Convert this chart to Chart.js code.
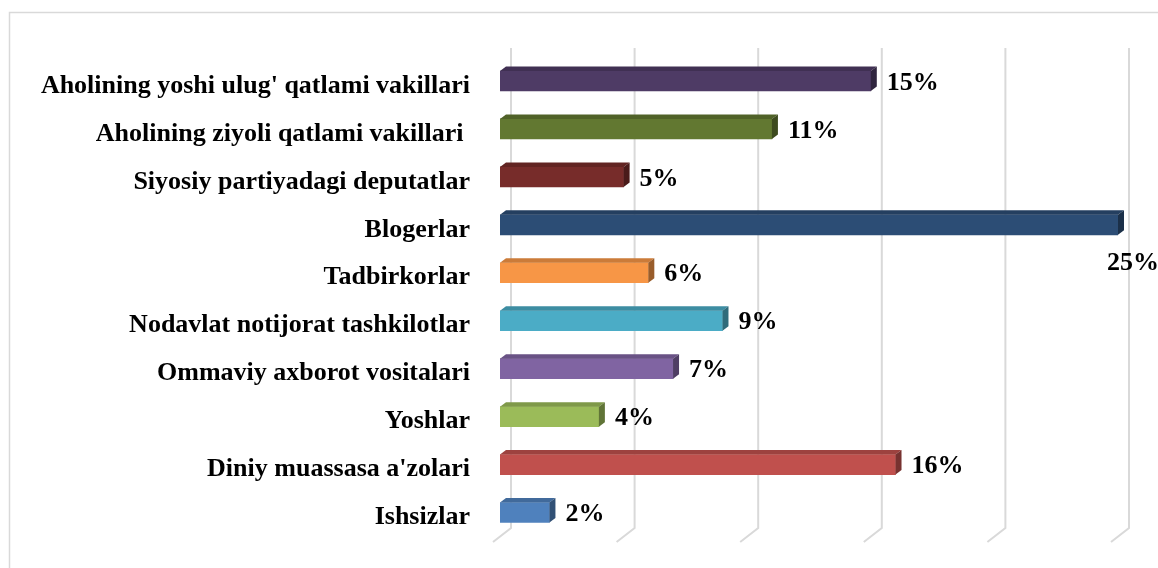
<!DOCTYPE html>
<html>
<head>
<meta charset="utf-8">
<script src="https://cdn.jsdelivr.net/npm/chart.js@4.4.1/dist/chart.umd.min.js"></script>
<style>
  html, body { margin: 0; padding: 0; background: #ffffff; }
  #wrap { width: 1158px; height: 568px; position: relative; }
</style>
</head>
<body>
<div id="wrap"><canvas id="c" width="1158" height="568"></canvas></div>
<script>
const categories = [
  "Aholining yoshi ulug' qatlami vakillari",
  "Aholining ziyoli qatlami vakillari ",
  "Siyosiy partiyadagi deputatlar",
  "Blogerlar",
  "Tadbirkorlar",
  "Nodavlat notijorat tashkilotlar",
  "Ommaviy axborot vositalari",
  "Yoshlar",
  "Diniy muassasa a'zolari",
  "Ishsizlar"
];
const values = [15, 11, 5, 25, 6, 9, 7, 4, 16, 2];
const gridTicks = [0, 5, 10, 15, 20, 25];
const barColors = ["#4E3B65", "#627831", "#772C2A", "#2C4D75", "#F79646",
                   "#4BACC6", "#8064A2", "#9BBB59", "#C0504D", "#4F81BD"];

const DX = 6, DY = 4.5;          // bar 3D depth
const GBACK = 11;                // gridline back-plane offset
const FLOOR_DX = 18, FLOOR_DY = 14;
const SERIF = "'Liberation Serif', 'Times New Roman', serif";

function shade(hex, f) {
  const n = parseInt(hex.slice(1), 16);
  const r = Math.round(((n >> 16) & 255) * f);
  const g = Math.round(((n >> 8) & 255) * f);
  const b = Math.round((n & 255) * f);
  return `rgb(${r},${g},${b})`;
}

const deco = {
  id: 'deco',
  beforeDatasetsDraw(chart) {
    const ctx = chart.ctx;
    const xs = chart.scales.x;
    const area = chart.chartArea;
    ctx.save();
    ctx.strokeStyle = '#d9d9d9';
    ctx.lineWidth = 1.5;
    ctx.strokeRect(9.5, 12.5, 1170, 600);
    ctx.lineWidth = 2;
    gridTicks.forEach(v => {
      const bx = xs.getPixelForValue(v) + GBACK;
      const yBottom = area.bottom - 8.5;
      ctx.beginPath();
      ctx.moveTo(bx, area.top - 9);
      ctx.lineTo(bx, yBottom);
      ctx.lineTo(bx - FLOOR_DX, yBottom + FLOOR_DY);
      ctx.stroke();
    });
    ctx.restore();
  },
  afterDatasetsDraw(chart) {
    const ctx = chart.ctx;
    const meta = chart.getDatasetMeta(0);
    const xs = chart.scales.x;
    ctx.save();
    meta.data.forEach((bar, i) => {
      const col = barColors[i];
      const x0 = xs.getPixelForValue(0);
      const x1 = bar.x;
      const top = bar.y - bar.height / 2;
      const bot = bar.y + bar.height / 2;
      ctx.fillStyle = shade(col, 0.82);
      ctx.beginPath();
      ctx.moveTo(x0, top);
      ctx.lineTo(x0 + DX, top - DY);
      ctx.lineTo(x1 + DX, top - DY);
      ctx.lineTo(x1, top);
      ctx.closePath();
      ctx.fill();
      ctx.fillStyle = shade(col, 0.62);
      ctx.beginPath();
      ctx.moveTo(x1, top);
      ctx.lineTo(x1 + DX, top - DY);
      ctx.lineTo(x1 + DX, bot - DY);
      ctx.lineTo(x1, bot);
      ctx.closePath();
      ctx.fill();
      ctx.fillStyle = '#000';
      ctx.font = 'bold 26px ' + SERIF;
      ctx.textBaseline = 'middle';
      ctx.textAlign = 'left';
      const txt = values[i] + '%';
      const w = ctx.measureText(txt).width;
      let lx = x1 + 16, ly = bar.y + 2;
      if (lx + w > chart.width) { lx = x1 - 11; ly = bar.y + 38.5; }
      ctx.fillText(txt, lx, ly);
    });
    ctx.restore();
  }
};

new Chart(document.getElementById('c'), {
  type: 'bar',
  data: {
    labels: categories,
    datasets: [{
      data: values,
      backgroundColor: barColors,
      borderWidth: 0,
      barThickness: 20
    }]
  },
  options: {
    indexAxis: 'y',
    responsive: false,
    animation: false,
    layout: { padding: { top: 57, bottom: 31.5, right: 40, left: 0 } },
    plugins: { legend: { display: false }, tooltip: { enabled: false } },
    scales: {
      x: { display: false, min: 0, max: 25 },
      y: {
        grid: { display: false, drawTicks: false },
        border: { display: false },
        ticks: {
          color: '#000',
          padding: 30,
          labelOffset: 5,
          font: { family: SERIF, size: 26, weight: 'bold' }
        },
        afterFit(scale) {
          scale.width = 500;
          scale.paddingTop = 0;
          scale.paddingBottom = 0;
        }
      }
    }
  },
  plugins: [deco]
});
</script>
</body>
</html>
